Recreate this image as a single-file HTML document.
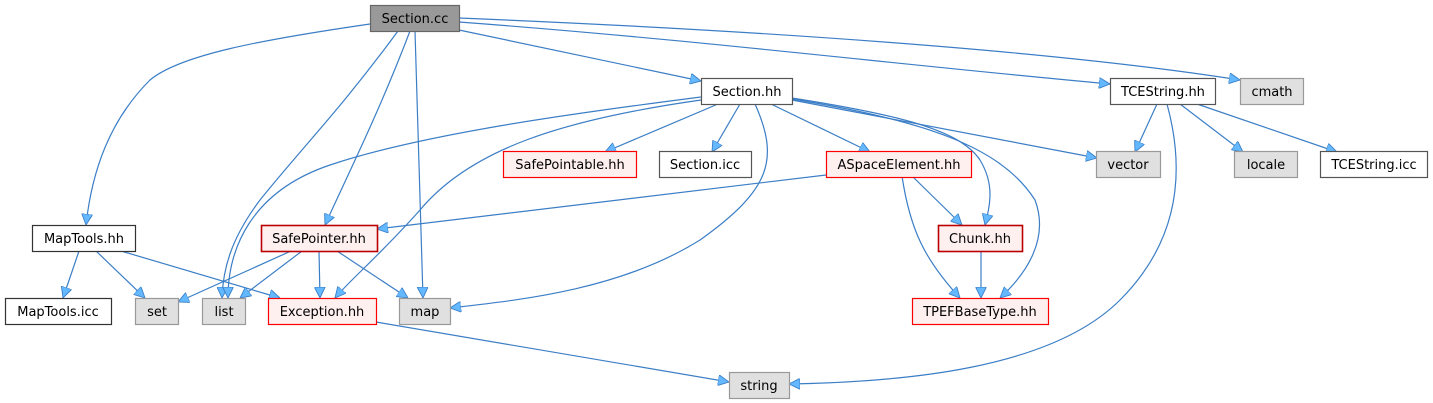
<!DOCTYPE html>
<html><head><meta charset="utf-8"><style>
html,body{margin:0;padding:0;background:#fff;}
svg{display:block;}
text{font-family:"DejaVu Sans","Liberation Sans",sans-serif;font-size:13px;fill:#000;text-anchor:middle;}
.e{fill:none;stroke:#3b7ec6;stroke-width:1.2;}
</style></head><body>
<svg width="1433" height="403" viewBox="0 0 1433 403" xmlns="http://www.w3.org/2000/svg">
<defs>
<marker id="a" viewBox="0 0 10 10" refX="10" refY="5" markerWidth="11" markerHeight="11" markerUnits="userSpaceOnUse" orient="auto">
<path d="M0,0 L10,5 L0,10 z" fill="#63b8ff" stroke="#3b7ec6" stroke-width="0.8"/>
</marker>
</defs>
<g class="e" marker-end="url(#a)">
<path d="M370,24 C260,40 180,55 150,80 C110,120 92,170 86,225"/>
<path d="M398,31 C340,110 300,150 260,200 C230,240 223,270 222,298"/>
<path d="M410,31 C380,110 350,170 325,225"/>
<path d="M415,31 L423,298"/>
<path d="M459,30 L701,81"/>
<path d="M459,22 C700,40 900,65 1110,84"/>
<path d="M459,18 C750,30 1050,50 1240,80"/>
<path d="M718,104 L605,152"/>
<path d="M740,104 L712,152"/>
<path d="M701,97 C560,115 420,135 330,165 C250,192 228,250 228,298"/>
<path d="M701,100 C560,120 470,150 420,210 C380,255 350,280 335,298"/>
<path d="M755,104 C780,160 770,190 700,240 C620,290 520,300 450,308"/>
<path d="M771,104 L870,152"/>
<path d="M792,98 C900,115 960,130 980,160 C995,185 990,205 985,225"/>
<path d="M792,99 C920,120 1000,145 1035,200 C1050,240 1025,275 1000,298"/>
<path d="M792,100 L1097,158"/>
<path d="M826,175 L377,229"/>
<path d="M912,176 L962,225"/>
<path d="M902,176 C910,230 925,260 960,298"/>
<path d="M981,251 L981,298"/>
<path d="M1157,104 L1135,152"/>
<path d="M1180,104 L1243,152"/>
<path d="M1197,104 L1337,152"/>
<path d="M1167,104 C1185,170 1180,240 1120,300 C1050,370 900,382 789,384"/>
<path d="M79,251 L63,298"/>
<path d="M96,251 L145,298"/>
<path d="M121,251 L280,298"/>
<path d="M291,251 L178,302"/>
<path d="M302,251 L240,298"/>
<path d="M319,251 L320,298"/>
<path d="M337,251 L408,298"/>
<path d="M376,322 L729,382"/>
</g>
<g stroke-width="1.2">
<rect x="370.5" y="5.5" width="89" height="26" fill="#999" stroke="#666"/>
<rect x="701.5" y="78.5" width="91" height="26" fill="#fff" stroke="#555"/>
<rect x="1110.5" y="78.5" width="105" height="26" fill="#fff" stroke="#555"/>
<rect x="1240.5" y="78.5" width="63" height="26" fill="#e0e0e0" stroke="#999"/>
<rect x="503.5" y="151.5" width="133" height="26" fill="#fff0f0" stroke="#f00"/>
<rect x="659.5" y="151.5" width="92" height="26" fill="#fff" stroke="#555"/>
<rect x="826.5" y="151.5" width="145" height="26" fill="#fff0f0" stroke="#f00"/>
<rect x="1096.5" y="151.5" width="64" height="26" fill="#e0e0e0" stroke="#999"/>
<rect x="1234.5" y="151.5" width="63" height="26" fill="#e0e0e0" stroke="#999"/>
<rect x="1320.5" y="151.5" width="107" height="26" fill="#fff" stroke="#555"/>
<rect x="32.5" y="225.5" width="103" height="26" fill="#fff" stroke="#333"/>
<rect x="261.5" y="225.5" width="116" height="26" fill="#fff0f0" stroke="#b00" stroke-width="1.6"/>
<rect x="938.5" y="225.5" width="84" height="26" fill="#fff0f0" stroke="#b00" stroke-width="1.6"/>
<rect x="5.5" y="298.5" width="106" height="26" fill="#fff" stroke="#333"/>
<rect x="135.5" y="298.5" width="43" height="26" fill="#e0e0e0" stroke="#999"/>
<rect x="202.5" y="298.5" width="43" height="26" fill="#e0e0e0" stroke="#999"/>
<rect x="268.5" y="298.5" width="108" height="26" fill="#fff0f0" stroke="#f00"/>
<rect x="399.5" y="298.5" width="51" height="26" fill="#e0e0e0" stroke="#999"/>
<rect x="912.5" y="298.5" width="136" height="26" fill="#fff0f0" stroke="#f00"/>
<rect x="729.5" y="372.5" width="60" height="26" fill="#e0e0e0" stroke="#999"/>
</g>
<g>
<text x="415" y="23">Section.cc</text>
<text x="747" y="96">Section.hh</text>
<text x="1163" y="96">TCEString.hh</text>
<text x="1272" y="96">cmath</text>
<text x="570" y="169">SafePointable.hh</text>
<text x="705" y="169">Section.icc</text>
<text x="899" y="169">ASpaceElement.hh</text>
<text x="1128" y="169">vector</text>
<text x="1266" y="169">locale</text>
<text x="1374" y="169">TCEString.icc</text>
<text x="84" y="243">MapTools.hh</text>
<text x="319" y="243">SafePointer.hh</text>
<text x="980" y="243">Chunk.hh</text>
<text x="58" y="316">MapTools.icc</text>
<text x="157" y="316">set</text>
<text x="224" y="316">list</text>
<text x="322" y="316">Exception.hh</text>
<text x="425" y="316">map</text>
<text x="980" y="316">TPEFBaseType.hh</text>
<text x="759" y="390">string</text>
</g>
</svg>
</body></html>
